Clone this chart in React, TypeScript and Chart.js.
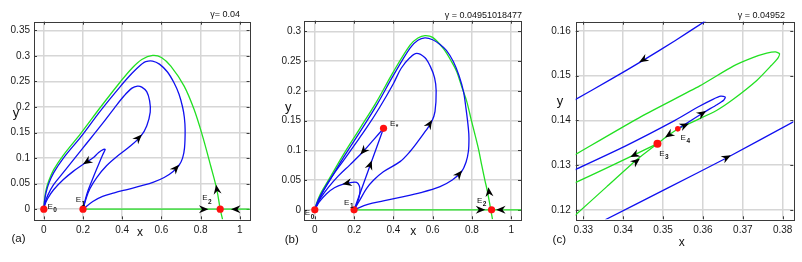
import React, { useEffect, useRef } from "react";
import { Chart, registerables } from "chart.js";
Chart.register(...registerables);

// ---------- Panel (a) data ----------
const aXTicks = [0, 0.2, 0.4, 0.6, 0.8, 1];
const aXTickLabels = ["0", "0.2", "0.4", "0.6", "0.8", "1"];
const aYTicks = [0, 0.05, 0.1, 0.15, 0.2, 0.25, 0.3, 0.35];
const aYTickLabels = ["0", "0.05", "0.1", "0.15", "0.2", "0.25", "0.3", "0.35"];
const aEqX = [0, 0.2, 0.9];
const aEqY = [0, 0, 0];
const aGreenSep = [[0, 0], [0.003, 0.015], [0.01, 0.035], [0.025, 0.055], [0.05, 0.077], [0.1, 0.106], [0.19, 0.149], [0.29, 0.2], [0.39, 0.249], [0.45, 0.276], [0.5, 0.293], [0.555, 0.301], [0.6, 0.297], [0.648, 0.28], [0.716, 0.241], [0.767, 0.195], [0.81, 0.143], [0.852, 0.084], [0.883, 0.038], [0.9, 0], [0.912, -0.02]];
const aGreenAxis = [[0.2, 0], [1.06, 0]];
const aBlueOuter = [[0.2, 0], [0.25, 0.015], [0.3, 0.025], [0.36, 0.032], [0.43, 0.039], [0.5, 0.046], [0.56, 0.053], [0.614, 0.062], [0.66, 0.074], [0.69, 0.086], [0.708, 0.1], [0.718, 0.12], [0.721, 0.156], [0.717, 0.18], [0.708, 0.2], [0.69, 0.225], [0.665, 0.247], [0.63, 0.269], [0.59, 0.284], [0.555, 0.29], [0.52, 0.289], [0.5, 0.284], [0.45, 0.266], [0.39, 0.24], [0.29, 0.193], [0.19, 0.142], [0.1, 0.1], [0.05, 0.071], [0.025, 0.05], [0.01, 0.03], [0.003, 0.013], [0, 0]];
const aBlueMid = [[0.2, 0], [0.215, 0.02], [0.235, 0.04], [0.27, 0.062], [0.32, 0.085], [0.376, 0.104], [0.44, 0.123], [0.495, 0.143], [0.525, 0.163], [0.543, 0.19], [0.54, 0.212], [0.525, 0.23], [0.5, 0.239], [0.478, 0.241], [0.45, 0.237], [0.41, 0.222], [0.36, 0.198], [0.3, 0.168], [0.2, 0.12], [0.1, 0.072], [0.05, 0.048], [0.02, 0.027], [0.005, 0.01], [0, 0]];
const aBlueSmall = [[0.2, 0], [0.22, 0.03], [0.25, 0.06], [0.28, 0.088], [0.3, 0.106], [0.31, 0.114], [0.313, 0.117], [0.305, 0.117], [0.28, 0.111], [0.25, 0.1], [0.205, 0.089], [0.15, 0.074], [0.1, 0.058], [0.05, 0.038], [0.02, 0.021], [0.005, 0.008], [0, 0]];
const aArrows = [[0.24, 0.098, 0.2, 0.088], [0.47, 0.134, 0.5, 0.146], [0.655, 0.072, 0.69, 0.087], [0.8, 0, 0.84, 0], [1.0, 0, 0.955, 0], [0.893, 0.015, 0.879, 0.048]];

// ---------- Panel (b) data ----------
const bXTicks = [0, 0.2, 0.4, 0.6, 0.8, 1];
const bXTickLabels = ["0", "0.2", "0.4", "0.6", "0.8", "1"];
const bYTicks = [0, 0.05, 0.1, 0.15, 0.2, 0.25, 0.3];
const bYTickLabels = ["0", "0.05", "0.1", "0.15", "0.2", "0.25", "0.3"];
const bEqX = [0, 0.2, 0.9, 0.35];
const bEqY = [0, 0, 0, 0.137];
const bGreenSep = [[0, 0], [0.008, 0.01], [0.026, 0.025], [0.05, 0.039], [0.077, 0.054], [0.144, 0.092], [0.23, 0.137], [0.315, 0.182], [0.4, 0.232], [0.485, 0.277], [0.525, 0.289], [0.561, 0.293], [0.6, 0.29], [0.655, 0.271], [0.7, 0.247], [0.723, 0.232], [0.75, 0.205], [0.774, 0.182], [0.796, 0.152], [0.816, 0.126], [0.835, 0.1], [0.85, 0.075], [0.866, 0.05], [0.879, 0.031], [0.896, 0], [0.905, -0.016]];
const bGreenAxis = [[0.2, 0], [1.06, 0]];
const bBlueOuter = [[0.2, 0], [0.27, 0.009], [0.349, 0.015], [0.434, 0.021], [0.54, 0.029], [0.638, 0.039], [0.7, 0.05], [0.747, 0.064], [0.77, 0.08], [0.782, 0.098], [0.785, 0.12], [0.782, 0.137], [0.77, 0.17], [0.757, 0.199], [0.735, 0.225], [0.706, 0.249], [0.67, 0.268], [0.638, 0.278], [0.6, 0.286], [0.561, 0.289], [0.525, 0.285], [0.485, 0.272], [0.4, 0.226], [0.315, 0.176], [0.23, 0.131], [0.144, 0.087], [0.077, 0.05], [0.026, 0.022], [0.008, 0.009], [0, 0]];
const bBlueMid = [[0.2, 0], [0.232, 0.018], [0.264, 0.036], [0.3, 0.05], [0.349, 0.064], [0.434, 0.081], [0.485, 0.098], [0.53, 0.117], [0.565, 0.133], [0.595, 0.148], [0.612, 0.165], [0.618, 0.2], [0.61, 0.222], [0.587, 0.242], [0.56, 0.256], [0.519, 0.263], [0.485, 0.256], [0.44, 0.238], [0.4, 0.212], [0.33, 0.172], [0.264, 0.138], [0.2, 0.108], [0.144, 0.082], [0.1, 0.062], [0.06, 0.042], [0.025, 0.02], [0.008, 0.007], [0, 0]];
const bE1ToStar = [[0.2, 0], [0.275, 0.0685], [0.35, 0.137]];
const bStarToE0 = [[0.35, 0.137], [0.3, 0.118], [0.238, 0.095], [0.18, 0.076], [0.12, 0.057], [0.07, 0.038], [0.03, 0.02], [0.008, 0.006], [0, 0]];
const bSmallLoop = [[0.2, 0], [0.215, 0.01], [0.226, 0.022], [0.23, 0.033], [0.226, 0.041], [0.213, 0.046], [0.19, 0.046], [0.145, 0.043], [0.1, 0.037], [0.06, 0.027], [0.025, 0.014], [0.008, 0.005], [0, 0]];
const bArrows = [[0.83, 0, 0.868, 0], [0.96, 0, 0.923, 0], [0.893, 0.012, 0.884, 0.038], [0.72, 0.054, 0.75, 0.066], [0.575, 0.139, 0.597, 0.151], [0.27, 0.065, 0.29, 0.083], [0.27, 0.107, 0.232, 0.093], [0.18, 0.046, 0.14, 0.043]];

// ---------- Panel (c) data ----------
const cXTicks = [0.33, 0.34, 0.35, 0.36, 0.37, 0.38];
const cXTickLabels = ["0.33", "0.34", "0.35", "0.36", "0.37", "0.38"];
const cYTicks = [0.12, 0.13, 0.14, 0.15, 0.16];
const cYTickLabels = ["0.12", "0.13", "0.14", "0.15", "0.16"];
const cEqX = [0.3486, 0.3537];
const cEqY = [0.1348, 0.1381];
const cBlueTop = [[0.3275, 0.1444], [0.337, 0.1492], [0.345, 0.1534], [0.353, 0.1578], [0.361, 0.1624]];
const cBlueBottom = [[0.3355, 0.1178], [0.351, 0.1248], [0.3659, 0.1316], [0.3832, 0.1399]];
const cBlueLoop = [[0.3275, 0.1288], [0.3404, 0.1342], [0.353, 0.14], [0.359, 0.1431], [0.3625, 0.1447], [0.3645, 0.1454], [0.3656, 0.1452], [0.3652, 0.1445], [0.3635, 0.1435], [0.3601, 0.1417], [0.3555, 0.1391], [0.3537, 0.1381]];
const cGreenLoop = [[0.3537, 0.1381], [0.358, 0.1399], [0.3634, 0.1422], [0.3676, 0.1447], [0.3735, 0.1489], [0.3772, 0.1523], [0.3788, 0.1539], [0.3792, 0.1549], [0.3782, 0.1553], [0.376, 0.155], [0.3725, 0.154], [0.3676, 0.1521], [0.3592, 0.1477], [0.3446, 0.1409], [0.3275, 0.1321]];
const cGreenE4E3 = [[0.3537, 0.1381], [0.3513, 0.1366], [0.3486, 0.1348]];
const cGreenUnstable = [[0.3486, 0.1348], [0.3421, 0.132], [0.335, 0.129], [0.3275, 0.1259]];
const cGreenStable = [[0.3276, 0.1185], [0.3359, 0.1252], [0.3434, 0.1312], [0.3486, 0.1348]];
const cArrows = [[0.349, 0.1556, 0.344, 0.153], [0.362, 0.1298, 0.367, 0.1322], [0.3585, 0.1408, 0.3608, 0.1421], [0.354, 0.1383, 0.3565, 0.1393], [0.3527, 0.1375, 0.3505, 0.1362], [0.3445, 0.133, 0.3418, 0.1318], [0.3418, 0.1298, 0.3442, 0.1315]];

const BLUE = "#1010f0";
const GREEN = "#22e022";
const FONT = '"Liberation Sans", Arial, sans-serif';

const toPts = (a: number[][]) => a.map(([x, y]) => ({ x, y }));

type Label = { i: number; sub: string; dx: number; dy: number };
type PanelCfg = {
  left: number; width: number;
  xMin: number; xMax: number; yMin: number; yMax: number;
  xTicks: number[]; xLabels: string[]; yTicks: number[]; yLabels: string[];
  blue: number[][][]; green: number[][][];
  eqX: number[]; eqY: number[]; eqR: number[];
  arrows: number[][]; labels: Label[]; tension: number;
  yW: number; padR: number; padT: number; xH: number; padB: number; yPad: number;
};

const panels: PanelCfg[] = [
  {
    left: 0, width: 267, xMin: -0.05, xMax: 1.05, yMin: -0.02, yMax: 0.367,
    xTicks: aXTicks, xLabels: aXTickLabels, yTicks: aYTicks, yLabels: aYTickLabels,
    blue: [aBlueOuter, aBlueMid, aBlueSmall], green: [aGreenSep, aGreenAxis],
    eqX: aEqX, eqY: aEqY, eqR: [3.6, 3.6, 3.6], arrows: aArrows, tension: 0.35,
    labels: [{ i: 0, sub: "0", dx: 3.6, dy: -0.5 }, { i: 1, sub: "1", dx: -7.3, dy: -7 }, { i: 2, sub: "2", dx: -18, dy: -8.7 }],
    yW: 34, padR: 17.4, padT: 21.7, xH: 20, padB: 22.6, yPad: 4,
  },
  {
    left: 267, width: 267, xMin: -0.055, xMax: 1.05, yMin: -0.016, yMax: 0.318,
    xTicks: bXTicks, xLabels: bXTickLabels, yTicks: bYTicks, yLabels: bYTickLabels,
    blue: [bBlueOuter, bBlueMid, bE1ToStar, bStarToE0, bSmallLoop], green: [bGreenSep, bGreenAxis],
    eqX: bEqX, eqY: bEqY, eqR: [3.6, 3.6, 3.6, 3.6], arrows: bArrows, tension: 0.35,
    labels: [{ i: 0, sub: "0", dx: -10, dy: 5.3 }, { i: 1, sub: "1", dx: -10, dy: -5 }, { i: 2, sub: "2", dx: -14.6, dy: -7 }, { i: 3, sub: "*", dx: 6.5, dy: -2.4 }],
    yW: 37, padR: 13, padT: 20.7, xH: 20, padB: 22.7, yPad: 3,
  },
  {
    left: 534, width: 268, xMin: 0.3281, xMax: 0.38266, yMin: 0.1179, yMax: 0.16204,
    xTicks: cXTicks, xLabels: cXTickLabels, yTicks: cYTicks, yLabels: cYTickLabels,
    blue: [cBlueTop, cBlueBottom, cBlueLoop], green: [cGreenLoop, cGreenE4E3, cGreenUnstable, cGreenStable],
    eqX: cEqX, eqY: cEqY, eqR: [4, 2.8], arrows: cArrows, tension: 0.2,
    labels: [{ i: 0, sub: "3", dx: 1.8, dy: 12 }, { i: 1, sub: "4", dx: 2.8, dy: 11 }],
    yW: 41.7, padR: 8.7, padT: 21.7, xH: 20, padB: 22.7, yPad: 5,
  },
];

function makeOverlay(cfg: PanelCfg) {
  return {
    id: "overlay",
    beforeDatasetsDraw(chart: any) {
      const { ctx, chartArea: a, scales } = chart;
      ctx.save();
      ctx.strokeStyle = "#3a3a3a";
      ctx.lineWidth = 1;
      ctx.beginPath();
      for (const v of cfg.xTicks) {
        const px = Math.round(scales.x.getPixelForValue(v)) + 0.5;
        ctx.moveTo(px, a.bottom); ctx.lineTo(px, a.bottom - 3);
        ctx.moveTo(px, a.top); ctx.lineTo(px, a.top + 3);
      }
      for (const v of cfg.yTicks) {
        const py = Math.round(scales.y.getPixelForValue(v)) + 0.5;
        ctx.moveTo(a.left, py); ctx.lineTo(a.left + 3, py);
        ctx.moveTo(a.right, py); ctx.lineTo(a.right - 3, py);
      }
      ctx.stroke();
      ctx.strokeRect(Math.round(a.left) + 0.5, Math.round(a.top) + 0.5, Math.round(a.right - a.left), Math.round(a.bottom - a.top));
      ctx.restore();
    },
    afterDatasetsDraw(chart: any) {
      const { ctx, scales } = chart;
      ctx.save();
      ctx.fillStyle = "#000";
      for (const [x1, y1, x2, y2] of cfg.arrows) {
        const p1x = scales.x.getPixelForValue(x1), p1y = scales.y.getPixelForValue(y1);
        const p2x = scales.x.getPixelForValue(x2), p2y = scales.y.getPixelForValue(y2);
        let ux = p2x - p1x, uy = p2y - p1y;
        const n = Math.hypot(ux, uy) || 1;
        ux /= n; uy /= n;
        const nx = -uy, ny = ux;
        const L = 9.5, W = 4, N = 6.5;
        ctx.beginPath();
        ctx.moveTo(p2x, p2y);
        ctx.lineTo(p2x - ux * L + nx * W, p2y - uy * L + ny * W);
        ctx.lineTo(p2x - ux * N, p2y - uy * N);
        ctx.lineTo(p2x - ux * L - nx * W, p2y - uy * L - ny * W);
        ctx.closePath();
        ctx.fill();
      }
      ctx.fillStyle = "#111";
      ctx.textBaseline = "alphabetic";
      ctx.textAlign = "left";
      for (const lb of cfg.labels) {
        const px = scales.x.getPixelForValue(cfg.eqX[lb.i]);
        const py = scales.y.getPixelForValue(cfg.eqY[lb.i]);
        ctx.font = `8px ${FONT}`;
        ctx.fillText("E", px + lb.dx, py + lb.dy);
        const w = ctx.measureText("E").width;
        ctx.font = `bold 6.5px ${FONT}`;
        ctx.fillText(lb.sub, px + lb.dx + w + 0.5, py + lb.dy + 3.5);
      }
      ctx.restore();
    },
  };
}

function Panel({ cfg }: { cfg: PanelCfg }) {
  const ref = useRef<HTMLCanvasElement | null>(null);
  useEffect(() => {
    if (!ref.current) return;
    const datasets: any[] = [
      {
        data: cfg.eqX.map((x, i) => ({ x, y: cfg.eqY[i] })),
        showLine: false,
        pointRadius: cfg.eqR,
        pointBackgroundColor: "#ff1010",
        pointBorderWidth: 0,
        order: 0,
      },
    ];
    for (const c of cfg.green) {
      datasets.push({ data: toPts(c), showLine: true, pointRadius: 0, borderColor: GREEN, borderWidth: 1.3, tension: cfg.tension, order: 2 });
    }
    for (const c of cfg.blue) {
      datasets.push({ data: toPts(c), showLine: true, pointRadius: 0, borderColor: BLUE, borderWidth: 1.3, tension: cfg.tension, order: 1 });
    }
    const tickFont = { family: FONT, size: 10 };
    const chart = new Chart(ref.current, {
      type: "scatter",
      data: { datasets },
      options: {
        animation: false,
        responsive: false,
        maintainAspectRatio: false,
        events: [],
        layout: { padding: { left: 0, right: cfg.padR, top: cfg.padT, bottom: cfg.padB } },
        plugins: { legend: { display: false }, tooltip: { enabled: false }, title: { display: false } },
        scales: {
          x: {
            type: "linear", min: cfg.xMin, max: cfg.xMax,
            afterBuildTicks: (s: any) => { s.ticks = cfg.xTicks.map((v) => ({ value: v })); },
            afterFit: (s: any) => { s.height = cfg.xH; },
            ticks: { font: tickFont, color: "#1a1a1a", padding: 5, maxRotation: 0, autoSkip: false, callback: (_v: any, i: number) => cfg.xLabels[i] },
            grid: { color: "#d6d6d6", lineWidth: 1.5, drawTicks: false },
            border: { display: false },
          },
          y: {
            type: "linear", min: cfg.yMin, max: cfg.yMax,
            afterBuildTicks: (s: any) => { s.ticks = cfg.yTicks.map((v) => ({ value: v })); },
            afterFit: (s: any) => { s.width = cfg.yW; },
            ticks: { font: tickFont, color: "#1a1a1a", padding: cfg.yPad, autoSkip: false, callback: (_v: any, i: number) => cfg.yLabels[i] },
            grid: { color: "#d6d6d6", lineWidth: 1.5, drawTicks: false },
            border: { display: false },
          },
        },
      },
      plugins: [makeOverlay(cfg)],
    } as any);
    return () => chart.destroy();
  }, [cfg]);
  return (
    <canvas
      ref={ref}
      width={cfg.width}
      height={262}
      style={{ position: "absolute", left: cfg.left, top: 0, width: cfg.width, height: 262 }}
    />
  );
}

type TextItem = { t: string; x: number; y: number; size: number; align: "center" | "right" };
const texts: TextItem[] = [
  { t: "γ= 0.04", x: 240, y: 14, size: 9, align: "right" },
  { t: "γ = 0.04951018477", x: 522, y: 15, size: 9, align: "right" },
  { t: "γ = 0.04952", x: 785, y: 15, size: 9, align: "right" },
  { t: "x", x: 140, y: 231.5, size: 12, align: "center" },
  { t: "x", x: 413.3, y: 230.7, size: 12, align: "center" },
  { t: "x", x: 681.7, y: 242.3, size: 12, align: "center" },
  { t: "y", x: 16, y: 112, size: 13, align: "center" },
  { t: "y", x: 288.3, y: 106, size: 13, align: "center" },
  { t: "y", x: 560, y: 100, size: 13, align: "center" },
  { t: "(a)", x: 18.5, y: 239, size: 11.5, align: "center" },
  { t: "(b)", x: 291.7, y: 240, size: 11.5, align: "center" },
  { t: "(c)", x: 559.3, y: 240, size: 11.5, align: "center" },
];

export default function App() {
  return (
    <div style={{ position: "absolute", left: 0, top: 0, width: 802, height: 262, background: "#fff", overflow: "hidden" }}>
      {panels.map((p, i) => (
        <Panel key={i} cfg={p} />
      ))}
      {texts.map((t, i) => (
        <div
          key={"t" + i}
          style={{
            position: "absolute", left: t.x, top: t.y, fontFamily: FONT, fontSize: t.size, color: "#111",
            lineHeight: 1, whiteSpace: "nowrap",
            transform: t.align === "right" ? "translate(-100%, -50%)" : "translate(-50%, -50%)",
          }}
        >
          {t.t}
        </div>
      ))}
    </div>
  );
}
